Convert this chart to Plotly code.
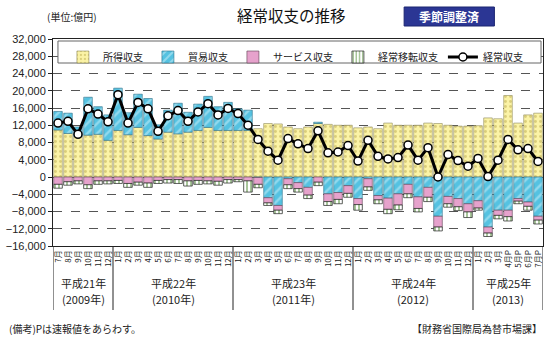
import plotly.graph_objects as go

# months: Jul 2009 .. Jul 2013
month_labels = (["7月", "8月", "9月", "10月", "11月", "12月"]
                + [f"{m}月" for m in range(1, 13)] * 3
                + ["1月", "2月", "3月", "4月P", "5月P", "6月P", "7月P"])

# 億円
income = [10900, 10100, 9400, 9700, 9900, 8500, 10800, 9800, 11500, 9600, 8800, 10400,
          10000, 10400, 10800, 11500, 10800, 10800, 10800, 10800, 11200, 12400, 12300, 11600,
          11200, 11600, 12400, 12200, 12000, 12000, 11400, 11600, 11200, 12500, 12000, 12000,
          12000, 12500, 12400, 12000, 11800, 11800, 11900, 13700, 13500, 18900, 12500, 14400, 14800]
trade = [4300, 4700, 2200, 8800, 6400, 5900, 9800, 5100, 7700, 8600, 3300, 5100,
         7100, 4600, 6100, 7200, 5500, 6500, 5000, 4700, -100, -4800, -6600, -400,
         -1300, -2400, 300, -3900, -3600, -2000, -5000, -400, -4300, -4900, -3900, -1700,
         -4600, -2400, -9100, -4500, -5000, -6200, -5500, -11600, -7700, -7700, -5000, -5800, -9100]
services = [-1700, -1100, -900, -1800, -900, -900, -800, -1500, -1200, -1400, -800, -600,
            -600, -900, -800, -900, -1000, -600, -600, -900, -1600, -1200, -1100, -1400,
            -1400, -1800, -1200, -1800, -1600, -1800, -1400, -1900, -1000, -2600, -2600, -2200,
            -2700, -2300, -2500, -1700, -1900, -1900, -1700, -1400, -1200, -1500, -600, -1000, -900]
transfers = [-900, -800, -700, -900, -800, -700, -700, -900, -700, -1000, -700, -800,
             -900, -1200, -900, -700, -900, -800, -500, -2600, -800, -600, -800, -900,
             -800, -800, -800, -900, -1000, -900, -1300, -800, -900, -1000, -1100, -900,
             -800, -1000, -900, -800, -900, -1300, -500, -800, -800, -1000, -600, -900, -900]
current = [12500, 12900, 9900, 15800, 14600, 12800, 19100, 12500, 17300, 15800, 10600, 14200,
           15400, 12900, 15100, 17000, 14400, 15900, 14700, 12000, 8700, 6000, 3900, 8900,
           7700, 6600, 10700, 5600, 5800, 7300, 3700, 8500, 4800, 4200, 4500, 7400,
           3900, 6800, 0, 5200, 3800, 2500, 4300, 100, 3900, 8700, 6300, 6600, 3600]

era_labels = ["平成21年", "平成22年", "平成23年", "平成24年", "平成25年"]
year_labels = ["(2009年)", "(2010年)", "(2011年)", "(2012)", "(2013)"]
year_spans = [(0, 5), (6, 17), (18, 29), (30, 41), (42, 48)]

x = list(range(len(month_labels)))
FONT = "Noto Sans CJK JP"

fig = go.Figure()
fig.add_bar(x=x, y=income, name="所得収支",
            marker=dict(color="#FBF3A6", line=dict(color="#8f8a5a", width=0.6),
                        pattern=dict(shape=".", fgcolor="#B9A94E", bgcolor="#FBF3A6",
                                     size=5, solidity=0.25, fillmode="overlay")))
fig.add_bar(x=x, y=trade, name="貿易収支",
            marker=dict(color="#55C2E1", line=dict(color="#2c6f88", width=0.6),
                        pattern=dict(shape="/", fgcolor="#CDEFF8", bgcolor="#55C2E1",
                                     size=7, solidity=0.35, fillmode="overlay")))
fig.add_bar(x=x, y=services, name="サービス収支",
            marker=dict(color="#E6A2CC", line=dict(color="#5a4050", width=0.6)))
fig.add_bar(x=x, y=transfers, name="経常移転収支",
            marker=dict(color="#FFFFFF", line=dict(color="#222", width=0.7),
                        pattern=dict(shape="|", fgcolor="#3E7F1E", bgcolor="#FFFFFF",
                                     size=4, solidity=0.45, fillmode="overlay")))
fig.add_scatter(x=x, y=current, name="経常収支", mode="lines+markers",
                line=dict(color="black", width=3),
                marker=dict(color="white", size=8, line=dict(color="black", width=1.5)))

# plot area px: left 50, right 544, top 39, bottom 246
L, R, T, B = 50, 544, 39, 246
W, H = R - L, B - T
def px(v):
    return (v - L) / W
def py(v):
    return (B - v) / H

shapes = []
# legend box
shapes.append(dict(type="rect", xref="paper", yref="paper", x0=px(55), x1=px(542),
                   y0=py(63), y1=py(41), fillcolor="white", line=dict(color="#666", width=1),
                   layer="above"))
# year separators below axis
bounds = [-0.5] + [e + 0.5 for (_, e) in year_spans]
for b in bounds:
    shapes.append(dict(type="line", xref="x", yref="paper", x0=b, x1=b,
                       y0=0, y1=py(310), line=dict(color="#222", width=1)))
# badge
shapes.append(dict(type="rect", xref="paper", yref="paper", x0=px(404), x1=px(495),
                   y0=py(26), y1=py(7), fillcolor="#2B3694", line=dict(color="#1b2470", width=1)))

def ann(xp, yp, text, size, xanchor="center", color="#222", xref="paper"):
    return dict(x=xp, y=yp, xref=xref, yref="paper", text=text, showarrow=False,
                xanchor=xanchor, yanchor="middle", font=dict(size=size, color=color, family=FONT))

annotations = []
for (s, e), t1, t2 in zip(year_spans, era_labels, year_labels):
    annotations.append(ann((s + e) / 2, py(283), t1, 11, xref="x"))
    annotations.append(ann((s + e) / 2, py(299), t2, 11, xref="x"))
annotations += [
    ann(px(290), py(15), "経常収支の推移", 15.5, color="#111"),
    ann(px(42), py(17), "(単位:億円)", 10, xanchor="left"),
    ann(px(449.5), py(16.5), "<b>季節調整済</b>", 12, color="white"),
    ann(px(4), py(328), "(備考)Pは速報値をあらわす。", 10, xanchor="left"),
    ann(px(545), py(328), "【財務省国際局為替市場課】", 10, xanchor="right"),
]

fig.update_layout(
    width=550, height=350,
    margin=dict(l=L, r=550 - R, t=T, b=350 - B, pad=0),
    paper_bgcolor="white", plot_bgcolor="white",
    barmode="relative", bargap=0.14,
    font=dict(family=FONT, size=11, color="#222"),
    showlegend=True,
    legend=dict(orientation="h", x=px(60), y=py(42.5), xanchor="left", yanchor="top",
                bgcolor="rgba(0,0,0,0)", borderwidth=0, font=dict(size=10, family=FONT),
                itemwidth=30, tracegroupgap=0, traceorder="normal"),
    shapes=shapes, annotations=annotations,
)
fig.update_xaxes(range=[-0.5, len(x) - 0.5], tickmode="array", tickvals=x, ticktext=month_labels,
                 tickangle=-90, tickfont=dict(size=8, family=FONT), ticks="", showgrid=False,
                 showline=True, linecolor="#222", linewidth=1, mirror=True, zeroline=False)
fig.update_yaxes(range=[-16000, 32000], dtick=4000, tickformat=",", tickfont=dict(size=11, family="Liberation Sans"),
                 showgrid=True, gridcolor="#555", griddash="dash", gridwidth=0.6,
                 ticks="outside", ticklen=4, tickcolor="#222",
                 showline=True, linecolor="#222", linewidth=1, mirror=True, zeroline=False)

fig.write_html("out.html")
